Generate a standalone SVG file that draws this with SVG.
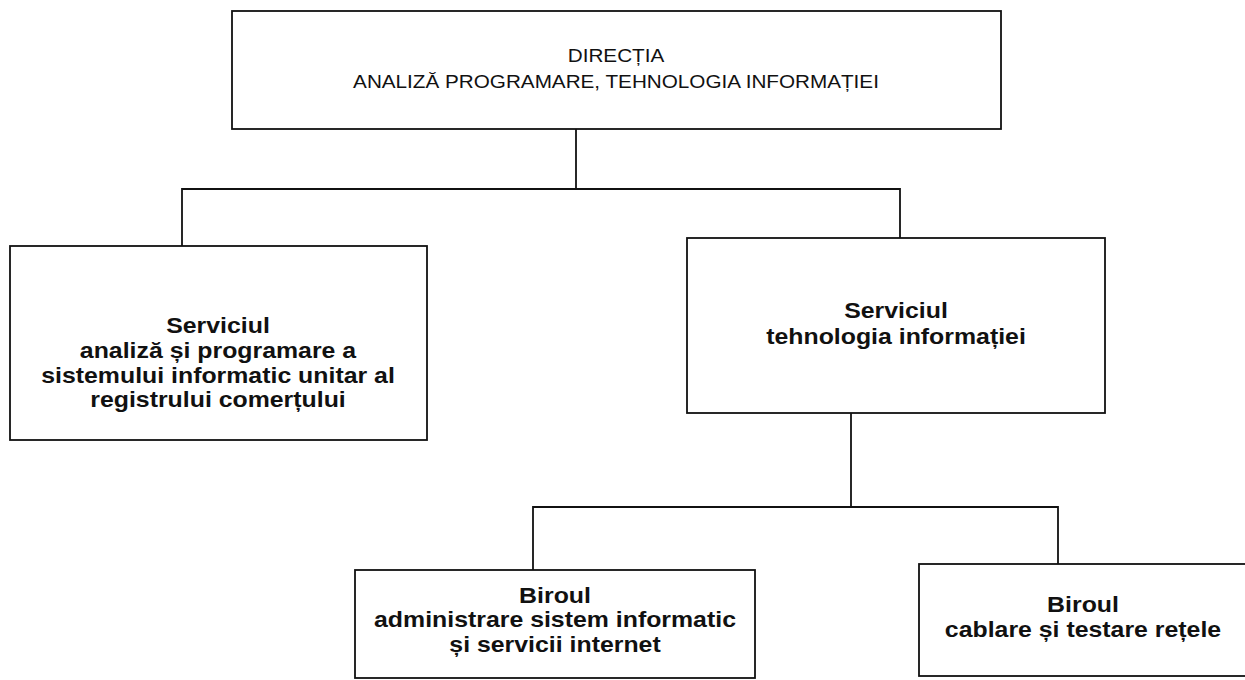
<svg xmlns="http://www.w3.org/2000/svg" width="1245" height="680" viewBox="0 0 1245 680">
  <style>
    .box { fill: #ffffff; stroke: #111111; stroke-width: 1.8; }
    .conn { fill: none; stroke: #111111; stroke-width: 1.8; }
    .t1 { font-family: "Liberation Sans", Arial, sans-serif; font-size: 18px; fill: #111111; text-anchor: middle; }
    .t2 { font-family: "Liberation Sans", Arial, sans-serif; font-size: 22px; font-weight: bold; fill: #111111; text-anchor: middle; }
  </style>
  <rect x="0" y="0" width="1245" height="680" fill="#ffffff"/>
  <g id="connectors">
    <path class="conn" d="M576,129 V189"/>
    <path class="conn" d="M182,246 V189 H900 V238"/>
    <path class="conn" d="M851,413 V507"/>
    <path class="conn" d="M533,570 V507 H1058 V564"/>
  </g>
  <g id="node-directia">
    <rect class="box" x="232" y="11" width="769" height="118"/>
    <g transform="translate(616,0) scale(1.15,1)">
      <text class="t1" x="0" y="62">DIRECȚIA</text>
      <text class="t1" x="0" y="88">ANALIZĂ PROGRAMARE, TEHNOLOGIA INFORMAȚIEI</text>
    </g>
  </g>
  <g id="node-serviciul-analiza">
    <rect class="box" x="10" y="246" width="417" height="194"/>
    <g transform="translate(218,0) scale(1.13,1)">
      <text class="t2" x="0" y="333">Serviciul</text>
      <text class="t2" x="0" y="358">analiză și programare a</text>
      <text class="t2" x="0" y="383">sistemului informatic unitar al</text>
      <text class="t2" x="0" y="407">registrului comerțului</text>
    </g>
  </g>
  <g id="node-serviciul-ti">
    <rect class="box" x="687" y="238" width="418" height="175"/>
    <g transform="translate(896,0) scale(1.13,1)">
      <text class="t2" x="0" y="318">Serviciul</text>
      <text class="t2" x="0" y="344">tehnologia informației</text>
    </g>
  </g>
  <g id="node-biroul-administrare">
    <rect class="box" x="355" y="570" width="400" height="108"/>
    <g transform="translate(555,0) scale(1.13,1)">
      <text class="t2" x="0" y="603">Biroul</text>
      <text class="t2" x="0" y="627">administrare sistem informatic</text>
      <text class="t2" x="0" y="652">și servicii internet</text>
    </g>
  </g>
  <g id="node-biroul-cablare">
    <rect class="box" x="919" y="564" width="340" height="112"/>
    <g transform="translate(1083,0) scale(1.13,1)">
      <text class="t2" x="0" y="612">Biroul</text>
      <text class="t2" x="0" y="637">cablare și testare rețele</text>
    </g>
  </g>
</svg>
